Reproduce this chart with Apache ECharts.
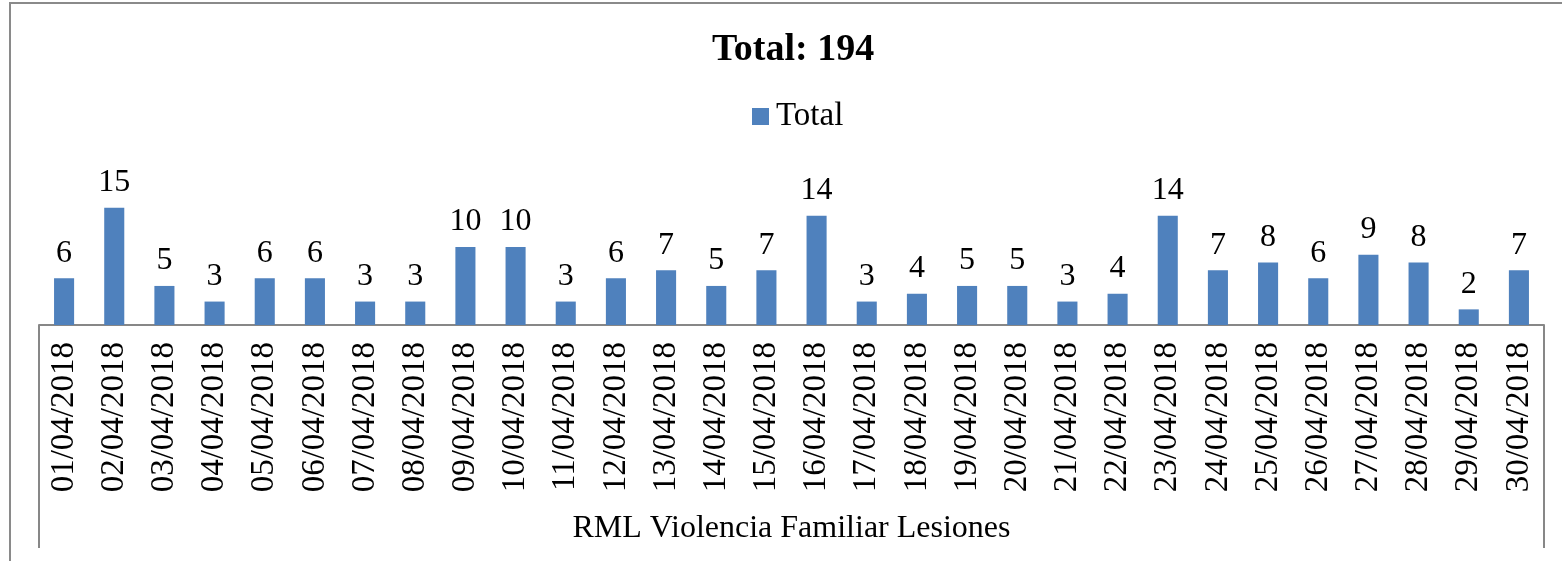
<!DOCTYPE html>
<html>
<head>
<meta charset="utf-8">
<script src="https://cdn.jsdelivr.net/npm/echarts@6.0.0/dist/echarts.min.js"></script>
<style>
  html, body { margin: 0; padding: 0; background: #fff; }
  #chart { width: 1562px; height: 561px; }
</style>
</head>
<body>
<div id="chart"></div>
<script>
const dates = ['01/04/2018', '02/04/2018', '03/04/2018', '04/04/2018', '05/04/2018', '06/04/2018',
  '07/04/2018', '08/04/2018', '09/04/2018', '10/04/2018', '11/04/2018', '12/04/2018', '13/04/2018',
  '14/04/2018', '15/04/2018', '16/04/2018', '17/04/2018', '18/04/2018', '19/04/2018', '20/04/2018',
  '21/04/2018', '22/04/2018', '23/04/2018', '24/04/2018', '25/04/2018', '26/04/2018', '27/04/2018',
  '28/04/2018', '29/04/2018', '30/04/2018']
const totals = [6, 15, 5, 3, 6, 6, 3, 3, 10, 10, 3, 6, 7, 5, 7, 14, 3, 4, 5, 5, 3, 4, 14, 7, 8, 6, 9, 8, 2, 7]
const groupName = ['RML Violencia Familiar Lesiones']
const seriesName = 'Total'
const titleText = 'Total: ' + totals.reduce((a, v) => a + v, 0)

const serif = "'Times New Roman', 'Liberation Serif', serif"
const axisGrey = '#878787'

const chart = echarts.init(document.getElementById('chart'))
chart.setOption({
  backgroundColor: '#fff',
  animation: false,
  title: {
    text: titleText,
    left: 707,
    top: 26,
    textStyle: { fontFamily: serif, fontSize: 38, fontWeight: 'bold', color: '#000' }
  },
  legend: {
    top: 95,
    left: 747,
    itemWidth: 17,
    itemHeight: 17,
    itemGap: 4,
    icon: 'rect',
    textStyle: { fontFamily: serif, fontSize: 33, color: '#000', padding: [0, 0, 0, 2] },
    data: [seriesName]
  },
  graphic: [{
    type: 'rect',
    shape: { x: 10, y: 3, width: 1600, height: 620 },
    style: { fill: 'none', stroke: '#8a8a8a', lineWidth: 2 },
    silent: true
  }],
  grid: { left: 39, right: 18, top: 200, bottom: 236 },
  xAxis: [{
    type: 'category',
    data: dates,
    position: 'bottom',
    axisLine: { show: true, lineStyle: { color: axisGrey, width: 2 } },
    axisTick: { show: false },
    axisLabel: {
      rotate: 90,
      margin: 17,
      interval: 0,
      fontFamily: serif,
      fontSize: 33,
      color: '#000'
    }
  }, {
    type: 'category',
    data: groupName,
    position: 'bottom',
    axisLine: { show: false },
    axisTick: { show: true, length: 223, lineStyle: { color: axisGrey, width: 2 } },
    axisLabel: {
      margin: 188,
      fontFamily: serif,
      fontSize: 32,
      color: '#000'
    }
  }],
  yAxis: {
    type: 'value',
    min: 0,
    max: 16,
    show: false,
    splitLine: { show: false }
  },
  series: [{
    name: seriesName,
    type: 'bar',
    data: totals,
    barWidth: '40%',
    itemStyle: { color: '#4F81BD' },
    label: {
      show: true,
      position: 'top',
      distance: 9,
      fontFamily: serif,
      fontSize: 32,
      color: '#000'
    }
  }]
})
</script>
</body>
</html>
